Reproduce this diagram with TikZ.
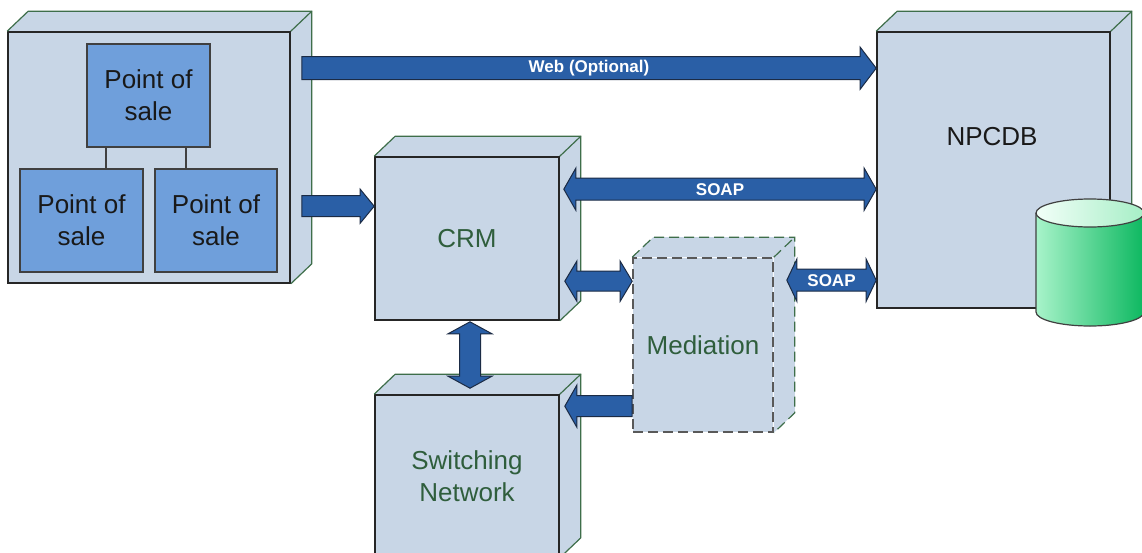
\documentclass[tikz,border=0pt]{standalone}
\usepackage{fontspec}
\setmainfont{Liberation Sans}
\usetikzlibrary{calc,backgrounds}
\definecolor{boxfill}{HTML}{C8D6E6}
\definecolor{posfill}{HTML}{6F9FDB}
\definecolor{edgegreen}{HTML}{3E6E4A}
\definecolor{txtgreen}{HTML}{2F5E3C}
\definecolor{arrowblue}{HTML}{2A5FA6}
\definecolor{arrowedge}{HTML}{1B2B45}
\definecolor{dbL}{HTML}{A8F3CA}
\definecolor{dbR}{HTML}{0DB860}
\definecolor{dbTL}{HTML}{F2FFF8}
\definecolor{dbTR}{HTML}{A6EEC6}
\tikzset{
 front/.style={draw=black!85, fill=boxfill, line width=1.6pt, inner sep=0pt,
   font=\fontsize{26}{32}\selectfont, align=center},
 faceedge/.style={draw=edgegreen, line width=1.2pt},
 dfront/.style={front, dash pattern=on 10pt off 5pt, draw=black!65},
 dfaceedge/.style={faceedge, dash pattern=on 10pt off 5pt},
 posbox/.style={draw=black!75, fill=posfill, line width=1.5pt, minimum width=123pt,
   minimum height=103pt, inner sep=0pt, font=\fontsize{26}{32}\selectfont,
   align=center, text=black!90},
 posline/.style={draw=black!75, line width=1.5pt},
 fatarrow/.style={fill=arrowblue, draw=arrowedge, line width=1pt, line join=miter},
 alabel/.style={text=white, font=\bfseries\fontsize{17}{19}\selectfont, inner sep=0pt},
 dbedge/.style={draw=black!75, line width=1.2pt},
}
\newcommand\cubefaces[2]{%
 \begin{pgfonlayer}{background}
 \fill[boxfill] (#1.north west) -- ++(21pt,20pt) -- ($(#1.north east)+(21pt,20pt)$)
   -- ($(#1.south east)+(21pt,20pt)$) -- (#1.south east) -- (#1.north east) -- cycle;
 \end{pgfonlayer}
 \draw[#2] (#1.north west) -- ++(21pt,20pt) -- ($(#1.north east)+(21pt,20pt)$)
   -- ($(#1.south east)+(21pt,20pt)$) -- (#1.south east);
 \draw[#2] (#1.north east) -- ++(21pt,20pt);
}
% tail, tip (tip to the right)
\newcommand\arrowR[5]{%
 \draw[fatarrow] let \p1=(#1), \p2=(#2) in (\x1,\y1+#3) -- (\x2-#5,\y1+#3)
   -- (\x2-#5,\y1+#4) -- (\x2,\y1) -- (\x2-#5,\y1-#4) -- (\x2-#5,\y1-#3)
   -- (\x1,\y1-#3) -- cycle;}
% tail, tip (tip to the left)
\newcommand\arrowL[5]{%
 \draw[fatarrow] let \p1=(#1), \p2=(#2) in (\x1,\y1+#3) -- (\x2+#5,\y1+#3)
   -- (\x2+#5,\y1+#4) -- (\x2,\y1) -- (\x2+#5,\y1-#4) -- (\x2+#5,\y1-#3)
   -- (\x1,\y1-#3) -- cycle;}
% left tip, right tip
\newcommand\arrowLR[5]{%
 \draw[fatarrow] let \p1=(#1), \p2=(#2) in (\x1,\y1) -- (\x1+#5,\y1+#4)
   -- (\x1+#5,\y1+#3) -- (\x2-#5,\y1+#3) -- (\x2-#5,\y1+#4) -- (\x2,\y1)
   -- (\x2-#5,\y1-#4) -- (\x2-#5,\y1-#3) -- (\x1+#5,\y1-#3) -- (\x1+#5,\y1-#4) -- cycle;}
% top tip, bottom tip
\newcommand\arrowUD[5]{%
 \draw[fatarrow] let \p1=(#1), \p2=(#2) in (\x1,\y1) -- (\x1+#4,\y1-#5)
   -- (\x1+#3,\y1-#5) -- (\x1+#3,\y2+#5) -- (\x1+#4,\y2+#5) -- (\x1,\y2)
   -- (\x1-#4,\y2+#5) -- (\x1-#3,\y2+#5) -- (\x1-#3,\y1-#5) -- (\x1-#4,\y1-#5) -- cycle;}

\begin{document}
\begin{tikzpicture}[x=1pt,y=-1pt]
\useasboundingbox (0,0) rectangle (1142,552);
\clip (0,0) rectangle (1142,552);

% Points of sale container
\node[front, minimum width=282pt, minimum height=251pt] (pos) at (149,157.5) {};
\cubefaces{pos}{faceedge}
\node[posbox] (pos1) at (148.5,95.5) {Point of\\sale};
\node[posbox] (pos2) at (81.5,220.5) {Point of\\sale};
\node[posbox, minimum width=122pt] (pos3) at (216,220.5) {Point of\\sale};
\coordinate (l1) at (106,0);
\coordinate (l2) at (186,0);
\draw[posline] (pos1.south -| l1) -- (pos2.north -| l1);
\draw[posline] (pos1.south -| l2) -- (pos3.north -| l2);

% NPCDB
\node[front, minimum width=233pt, minimum height=276pt] (npcdb) at (993.5,170) {};
\cubefaces{npcdb}{faceedge}
\node[font=\fontsize{26}{32}\selectfont, text=black!90] (npcdbtxt) at (992,137) {NPCDB};

% database cylinder
\fill[left color=dbL, right color=dbR] (1036,213) -- (1036,312)
  arc[start angle=180, end angle=360, x radius=54pt, y radius=14pt] -- (1144,213) -- cycle;
\draw[dbedge] (1036,213) -- (1036,312)
  arc[start angle=180, end angle=360, x radius=54pt, y radius=14pt] -- (1144,213);
\draw[dbedge, left color=dbTL, right color=dbTR] (1090,213) ellipse [x radius=54pt, y radius=14pt];

% CRM
\node[front, text=txtgreen, minimum width=184pt, minimum height=163pt] (crm) at (467,238.5) {CRM};
\cubefaces{crm}{faceedge}

% Switching network
\node[front, text=txtgreen, minimum width=184pt, minimum height=162pt] (sw) at (467,476) {Switching\\Network};
\cubefaces{sw}{faceedge}

% Mediation
\node[dfront, text=txtgreen, minimum width=140pt, minimum height=174pt] (med) at (703,345) {Mediation};
\cubefaces{med}{dfaceedge}

% connector end points
\coordinate (webT) at ($(pos.north east)+(11pt,-37pt)$);
\coordinate (pcT) at ($(pos.north east)+(11pt,-175pt)$);
\coordinate (s1L) at ($(crm.north east)+(4pt,-33pt)$);
\coordinate (cmL) at ($(crm.north east)+(5pt,-125pt)$);
\coordinate (s2L) at ($(med.north east)+(13pt,-23pt)$);
\coordinate (vT) at ($(crm.south)+(3pt,-1pt)$);
\coordinate (vB) at ($(sw.north)+(3pt,6pt)$);
\coordinate (msT) at ($(med.north west)+(0pt,-149pt)$);
\coordinate (msH) at ($(sw.north east)+(5pt,-12pt)$);

% arrows
\arrowR{webT}{npcdb.west |- webT}{11.5pt}{21pt}{16pt}
\node[alabel] (weblbl) at ($(webT)!0.5!(npcdb.west |- webT)$) {Web (Optional)};
\arrowR{pcT}{crm.west |- pcT}{10.5pt}{17pt}{14pt}
\arrowLR{s1L}{npcdb.west |- s1L}{11pt}{21pt}{12pt}
\node[alabel] (soap1) at ($(s1L)!0.5!(npcdb.west |- s1L)$) {SOAP};
\arrowLR{cmL}{med.west |- cmL}{10pt}{20pt}{12pt}
\arrowLR{s2L}{npcdb.west |- s2L}{11pt}{21pt}{10pt}
\node[alabel] (soap2) at ($(s2L)!0.5!(npcdb.west |- s2L)$) {SOAP};
\arrowUD{vT}{vB}{10.5pt}{22pt}{12pt}
\arrowL{msT}{msH}{10.5pt}{21pt}{12pt}
\end{tikzpicture}
\end{document}
